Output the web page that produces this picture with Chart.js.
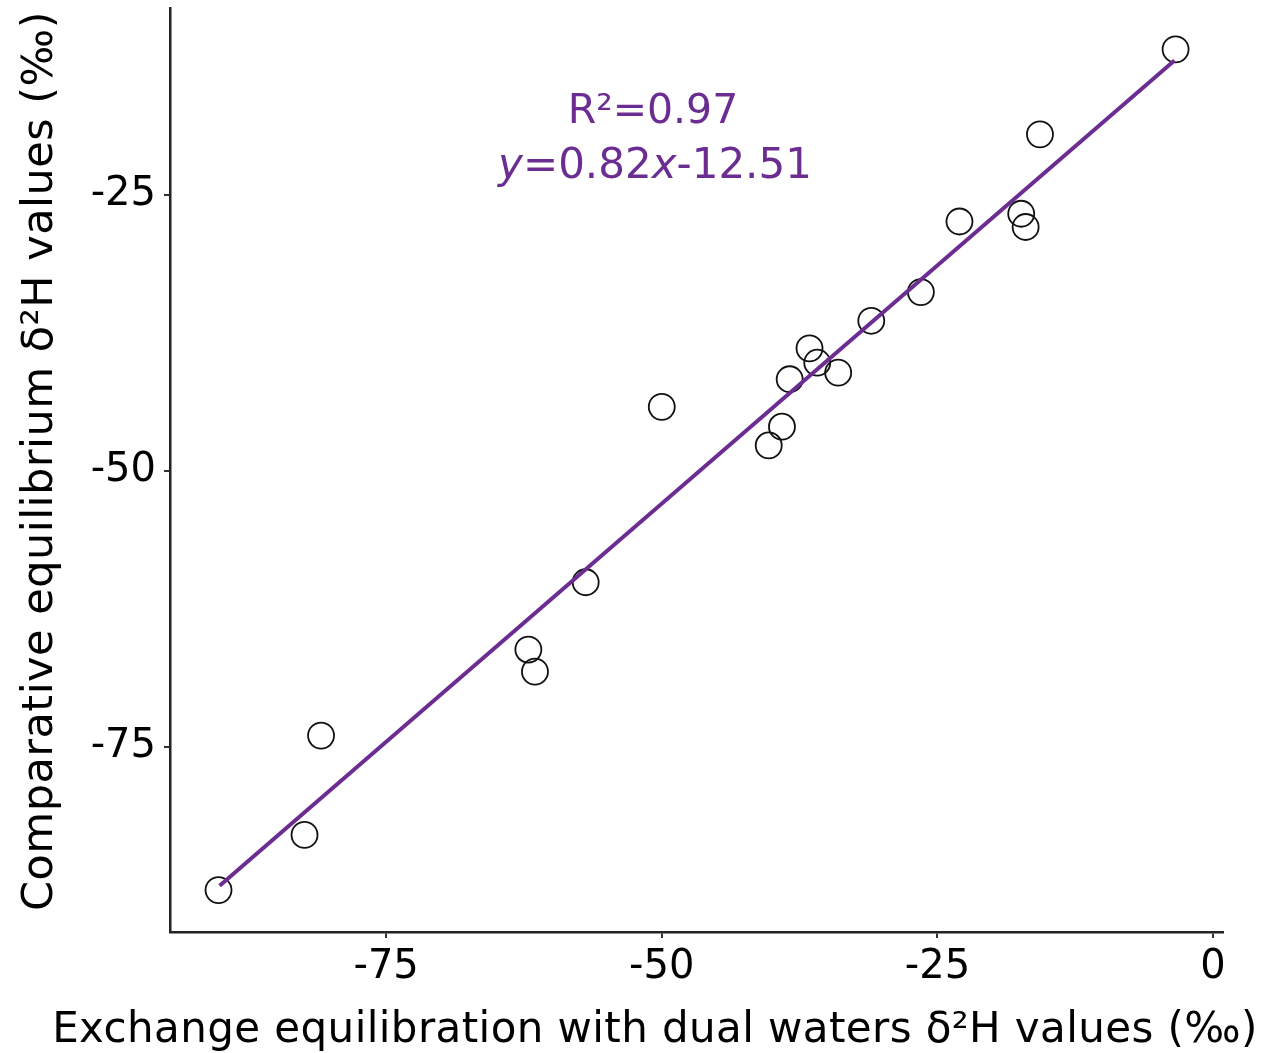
<!DOCTYPE html>
<html>
<head>
<meta charset="utf-8">
<script src="https://cdn.jsdelivr.net/npm/chart.js@4.4.0/dist/chart.umd.min.js"></script>
<style>
  body { margin: 0; background: #fff; }
  #wrap { width: 1265px; height: 1053px; }
</style>
</head>
<body>
<div id="wrap"><canvas id="myChart"></canvas></div>
<script>
// exchange equilibration (x) vs comparative equilibrium (y), d2H in permil
const exchangeX = [-90.2, -82.4, -80.9, -62.1, -61.5, -56.9, -50.0, -40.3, -39.1, -38.4,
                   -36.6, -35.9, -34.0, -31.0, -26.5, -23.0, -17.4, -17.0, -15.7, -3.4];
const comparativeY = [-88.0, -83.0, -74.0, -66.2, -68.2, -60.1, -44.2, -47.7, -46.0, -41.7,
                      -38.9, -40.2, -41.1, -36.4, -33.8, -27.4, -26.7, -27.9, -19.5, -11.8];

// fitted line end points as drawn
const fitX = [-90.1, -3.5];
const fitY = [-87.6, -12.8];

const xTicks = [-75, -50, -25, 0];
const yTicks = [-75, -50, -25];

const xTitle = "Exchange equilibration with dual waters δ²H values (‰)";
const yTitle = "Comparative equilibrium δ²H values (‰)";
const r2Text = "R²=0.97";

const purple = "#6b2d91";
const fontFamily = "'DejaVu Sans', Verdana, sans-serif";

const ctx = document.getElementById("myChart");

let points = exchangeX.map((x, i) => ({ x: x, y: comparativeY[i] }));
let fitPoints = fitX.map((x, i) => ({ x: x, y: fitY[i] }));

// titles and the equation text
const textPlugin = {
    id: "textPlugin",
    afterDraw(chart) {
        const c = chart.ctx;
        c.save();
        c.fillStyle = "#000";
        c.textAlign = "center";
        c.textBaseline = "alphabetic";
        c.font = "42px " + fontFamily;
        c.letterSpacing = "0.4px";
        c.fillText(xTitle, 655, 1042);

        c.save();
        c.font = "43px " + fontFamily;
        c.letterSpacing = "0.5px";
        c.translate(52, 461);
        c.rotate(-Math.PI / 2);
        c.fillText(yTitle, 0, 0);
        c.restore();
        c.letterSpacing = "0px";

        // equation
        c.fillStyle = purple;
        c.font = "41px " + fontFamily;
        c.fillText(r2Text, 653, 123);

        let runs = [["y", true], ["=0.82", false], ["x", true], ["-12.51", false]];
        let total = 0;
        runs.forEach(r => {
            c.font = (r[1] ? "italic " : "") + "42px " + fontFamily;
            total += c.measureText(r[0]).width;
        });
        let x = 655 - total / 2;
        c.textAlign = "left";
        runs.forEach(r => {
            c.font = (r[1] ? "italic " : "") + "42px " + fontFamily;
            c.fillText(r[0], x, 178);
            x += c.measureText(r[0]).width;
        });
        c.restore();
    }
};

const axisStyle = {
    grid: {
        display: true,
        drawOnChartArea: false,
        drawTicks: true,
        tickLength: 6,
        color: "#333",
        lineWidth: 2
    },
    border: { display: true, color: "#222", width: 2.5 }
};

let myChart = new Chart(ctx, {
    type: "scatter",
    data: {
        datasets: [
            {
                type: "line",
                data: fitPoints,
                borderColor: purple,
                borderWidth: 4,
                pointRadius: 0,
                fill: false,
                order: 0
            },
            {
                data: points,
                pointStyle: "circle",
                pointRadius: 13,
                pointHoverRadius: 13,
                pointBorderWidth: 1.8,
                borderColor: "#111",
                backgroundColor: "rgba(0,0,0,0)",
                order: 1
            }
        ]
    },
    options: {
        responsive: true,
        maintainAspectRatio: false,
        animation: false,
        layout: { autoPadding: false, padding: { top: 8, right: 42, left: 0, bottom: 0 } },
        plugins: {
            legend: { display: false },
            tooltip: { enabled: false }
        },
        scales: {
            x: {
                type: "linear",
                position: "bottom",
                min: -94.6,
                max: 0.9,
                afterBuildTicks: (s) => { s.ticks = xTicks.map(v => ({ value: v })); },
                afterFit: (s) => {
                    s.height = 121;
                    s.paddingLeft = 0;
                    s.paddingRight = 0;
                },
                ...axisStyle,
                ticks: {
                    color: "#000",
                    font: { family: fontFamily, size: 40 },
                    padding: 6,
                    maxRotation: 0,
                    autoSkip: false,
                    callback: (v) => String(v)
                }
            },
            y: {
                type: "linear",
                min: -91.8,
                max: -8.05,
                afterBuildTicks: (s) => { s.ticks = yTicks.map(v => ({ value: v })); },
                afterFit: (s) => {
                    s.width = 170;
                    s.paddingTop = 0;
                    s.paddingBottom = 0;
                },
                ...axisStyle,
                ticks: {
                    color: "#000",
                    font: { family: fontFamily, size: 40 },
                    padding: 8,
                    autoSkip: false,
                    callback: (v) => String(v)
                }
            }
        }
    },
    plugins: [textPlugin]
});
</script>
</body>
</html>
